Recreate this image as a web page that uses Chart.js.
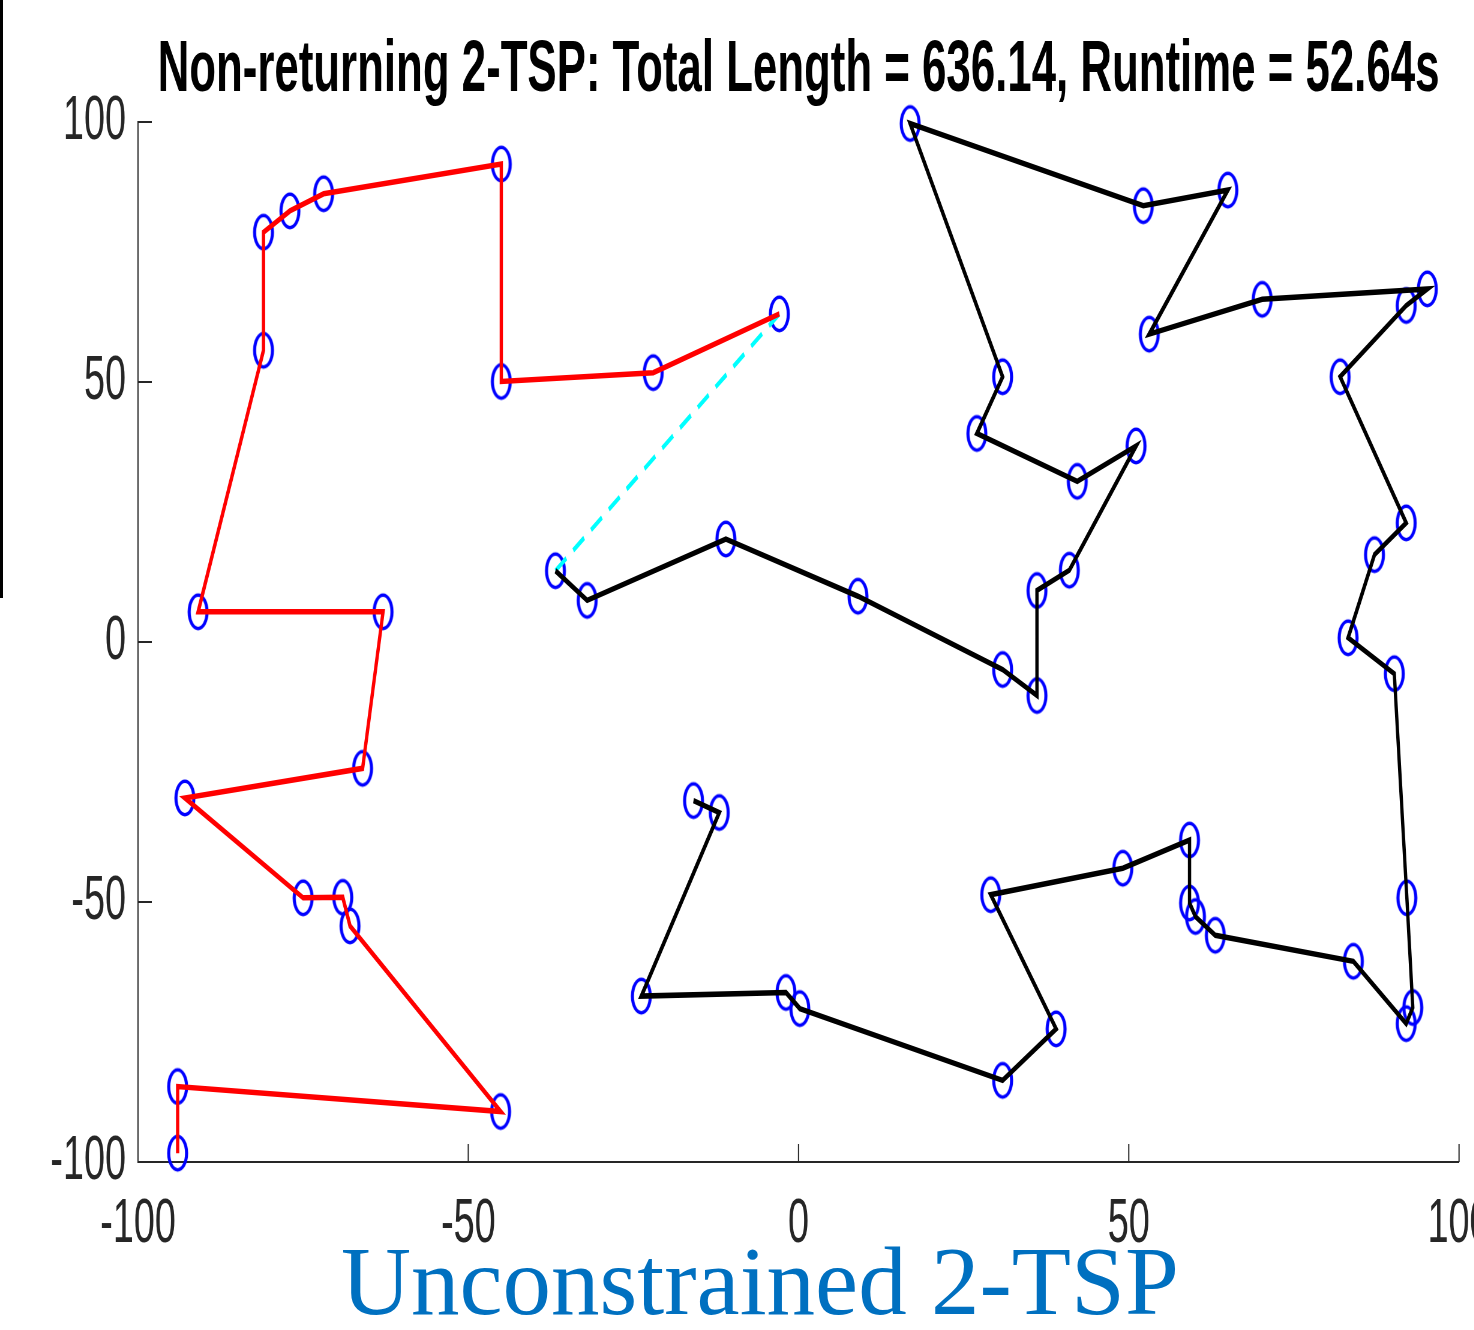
<!DOCTYPE html>
<html>
<head>
<meta charset="utf-8">
<script src="https://cdn.jsdelivr.net/npm/chart.js@4.4.1/dist/chart.umd.min.js"></script>
<style>
  html, body { margin: 0; padding: 0; background: #ffffff; overflow: hidden; width: 1474px; height: 1330px; }
  #wrap { position: relative; width: 1474px; height: 1330px; overflow: hidden; }
  #c { position: absolute; left: 0; top: 0; transform: scaleX(0.6); transform-origin: 0 0; }
  #edge { position: absolute; left: 0; top: 0; width: 3px; height: 598px; background: #000; }
  #caption { position: absolute; left: 341px; top: 1233px; font-family: 'Liberation Serif', 'Times New Roman', serif; font-size: 97px; line-height: 1; color: #0070C0; white-space: nowrap; }
</style>
</head>
<body>
<div id="wrap">
  <canvas id="c" width="2520" height="1330"></canvas>
  <div id="edge"></div>
  <div id="caption">Unconstrained 2-TSP</div>
</div>
<script>
// ---- data ----
const titleText = 'Non-returning 2-TSP: Total Length = 636.14, Runtime = 52.64s';
const xTicks = [-100, -50, 0, 50, 100];
const yTicks = [-100, -50, 0, 50, 100];

// salesman 1 (red)
const route1X = [-94.0, -94.0, -45.1, -67.9, -69.0, -75.0, -92.9, -66.0, -62.9, -90.9, -81.0, -81.0, -77.0, -71.9, -45.0, -45.0, -22.0, -2.9];
const route1Y = [-98.3, -85.5, -90.3, -54.6, -49.1, -49.2, -30.0, -24.3, 5.8, 5.8, 56.1, 78.8, 82.9, 86.2, 91.9, 50.1, 51.8, 63.1];

// salesman 2 (black)
const route2X = [-36.8, -32.0, -11.0, 9.0, 30.9, 36.1, 36.1, 41.0, 51.1, 42.2, 27.0, 30.9, 16.9, 52.2, 65.0, 53.1, 70.2, 95.2, 92.0, 82.0, 92.0, 87.2, 83.2, 90.2, 92.1, 93.0, 92.0, 84.0, 63.1, 60.1, 59.2, 59.2, 49.1, 29.1, 39.0, 30.9, 0.2, -1.9, -23.8, -12.0, -15.9];
const route2Y = [13.7, 8.0, 19.8, 8.8, -5.3, -10.3, 9.9, 13.8, 37.7, 30.9, 40.1, 51.0, 99.7, 83.9, 86.9, 59.2, 65.9, 67.9, 64.7, 51.0, 22.9, 16.8, 0.8, -6.1, -49.2, -70.3, -73.4, -61.4, -56.4, -52.8, -50.2, -38.1, -43.5, -48.6, -74.4, -84.3, -70.5, -67.4, -68.1, -32.8, -30.5];

// ---- build datasets from arrays ----
const toPts = (xs, ys) => xs.map((x, i) => ({ x: x, y: ys[i] }));
const route1 = toPts(route1X, route1Y);
const route2 = toPts(route2X, route2Y);
const cities = route1.concat(route2);
const connector = [route2[0], route1[route1.length - 1]];

const FONT = "'Liberation Sans', Arial, Helvetica, sans-serif";
const AXIS = '#262626';

// ring marker (pre-compensated for the horizontal squeeze of the figure)
function makeRing() {
  const c = document.createElement('canvas');
  c.width = 40; c.height = 42;
  const g = c.getContext('2d');
  g.fillStyle = '#0000FF';
  g.beginPath();
  g.ellipse(20, 21, 17.5, 18.4, 0, 0, Math.PI * 2);
  g.ellipse(20, 21, 12.3, 15.0, 0, 0, Math.PI * 2);
  g.fill('evenodd');
  return c;
}
const ring = makeRing();

const inwardTicks = {
  id: 'inwardTicks',
  beforeDatasetsDraw(chart) {
    const ctx = chart.ctx;
    const xs = chart.scales.x, ys = chart.scales.y;
    const a = chart.chartArea;
    ctx.save();
    ctx.strokeStyle = AXIS;
    ctx.lineWidth = 2;
    ctx.beginPath();
    xTicks.forEach(v => {
      const px = xs.getPixelForValue(v);
      ctx.moveTo(px, a.bottom);
      ctx.lineTo(px, a.bottom - 18);
    });
    yTicks.forEach(v => {
      const py = ys.getPixelForValue(v);
      ctx.moveTo(a.left, py);
      ctx.lineTo(a.left + 23, py);
    });
    ctx.stroke();
    ctx.restore();
  }
};

new Chart(document.getElementById('c'), {
  type: 'scatter',
  data: {
    datasets: [
      { label: 'route1', data: route1, showLine: true, borderColor: '#FF0000', borderWidth: 5.5, pointRadius: 0, fill: false, tension: 0, clip: false },
      { label: 'route2', data: route2, showLine: true, borderColor: '#000000', borderWidth: 5.5, pointRadius: 0, fill: false, tension: 0, clip: false },
      { label: 'link', data: connector, showLine: true, borderColor: '#00FFFF', borderWidth: 5, borderDash: [22, 14], pointRadius: 0, fill: false, clip: false },
      { label: 'cities', data: cities, showLine: false, pointStyle: ring, pointRadius: 18, clip: false }
    ]
  },
  options: {
    responsive: false,
    devicePixelRatio: 1,
    animation: false,
    events: [],
    layout: { padding: { left: 0, right: 88.3, top: 0, bottom: 0 } },
    plugins: {
      legend: { display: false },
      tooltip: { enabled: false },
      title: {
        display: true,
        text: titleText,
        fullSize: false,
        color: '#000000',
        font: { family: FONT, size: 73, weight: 'bold', lineHeight: 1.2 },
        padding: { top: 27.2, bottom: 7.2 }
      }
    },
    scales: {
      x: {
        type: 'linear', min: -100, max: 100,
        afterFit(s) { s.height = 168; },
        afterBuildTicks(s) { s.ticks = xTicks.map(v => ({ value: v })); },
        grid: { display: false, drawTicks: false },
        border: { display: true, color: AXIS, width: 2 },
        ticks: { color: AXIS, padding: 25, maxRotation: 0, autoSkip: false, font: { family: FONT, size: 63, lineHeight: 1.2 } }
      },
      y: {
        type: 'linear', min: -100, max: 100,
        afterFit(s) { s.width = 230; },
        afterBuildTicks(s) { s.ticks = yTicks.map(v => ({ value: v })); },
        grid: { display: false, drawTicks: false },
        border: { display: true, color: AXIS, width: 2 },
        ticks: { color: AXIS, padding: 20, autoSkip: false, font: { family: FONT, size: 63, lineHeight: 1.2 } }
      }
    }
  },
  plugins: [inwardTicks]
});
</script>
</body>
</html>
